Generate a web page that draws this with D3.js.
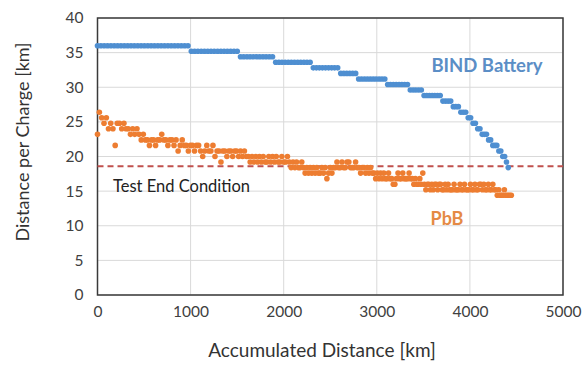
<!DOCTYPE html>
<html><head><meta charset="utf-8">
<script src="https://cdn.jsdelivr.net/npm/d3@7"></script>
<style>body{margin:0;background:#fff}svg{display:block}text{font-family:Lato,"Open Sans",sans-serif}</style>
</head><body><svg id="c" width="583" height="372"></svg>
<script>
const xTicks = [0, 1000, 2000, 3000, 4000, 5000];
const yTicks = [0, 5, 10, 15, 20, 25, 30, 35, 40];
const testEnd = 18.6;

const bindX = [0,36,72,108,144,180,216,252,288,324,360,396,432,468,504,540,576,612,648,684,720,756,792,828,864,900,936,972,
1008,1043,1078,1114,1149,1184,1219,1254,1290,1325,1360,1395,1430,1466,1501,
1536,1570,1605,1639,1674,1708,1742,1777,1811,1846,1880,
1914,1948,1981,2015,2049,2082,2116,2150,2183,2217,2250,2284,
2318,2351,2383,2416,2449,2482,2515,2547,2580,
2613,2645,2677,2709,2741,2773,
2805,2836,2868,2899,2930,2961,2992,3024,3055,3086,
3117,3147,3178,3208,3239,3269,3299,3330,
3360,3390,3419,3449,3478,
3508,3537,3566,3595,3623,3652,3681,
3710,3738,3766,3794,
3822,3849,3876,3903,3929,3955,3982,4008,4034,4059,4084,4108,4132,4155,4178,4201,4223,4246,4268,4289,4311,4332,4353,4373,4393,4412];
const bindY = [36,36,36,36,36,36,36,36,36,36,36,36,36,36,36,36,36,36,36,36,36,36,36,36,36,36,36,36,
35.2,35.2,35.2,35.2,35.2,35.2,35.2,35.2,35.2,35.2,35.2,35.2,35.2,35.2,35.2,
34.4,34.4,34.4,34.4,34.4,34.4,34.4,34.4,34.4,34.4,34.4,
33.6,33.6,33.6,33.6,33.6,33.6,33.6,33.6,33.6,33.6,33.6,33.6,
32.8,32.8,32.8,32.8,32.8,32.8,32.8,32.8,32.8,
32,32,32,32,32,32,
31.2,31.2,31.2,31.2,31.2,31.2,31.2,31.2,31.2,31.2,
30.4,30.4,30.4,30.4,30.4,30.4,30.4,30.4,
29.6,29.6,29.6,29.6,29.6,
28.8,28.8,28.8,28.8,28.8,28.8,28.8,
28,28,28,28,
27.2,27.2,27.2,26.4,26.4,26.4,25.6,25.6,24.8,24.8,24,24,23.2,23.2,23.2,22.4,22.4,21.6,21.6,21.6,20.8,20.8,20,20,19.2,18.4];

const pbbX = [0,20,45,70,95,118,142,166,190,212,236,260,284,306,330,354,378,400,424,446,470,492,514,536,558,580,602,624,646,668,690,712,734,756,778,800,822,844,866,888,910,932,954,976,998,1020,1042,1064,1086,1108,1130,1152,1174,1196,1218,1240,1262,1284,1306,1326,1346,1368,1390,1410,1432,1452,1474,1494,1516,1536,1558,1578,1600,1620,1640,1660,1680,1700,1720,1740,1760,1780,1800,1820,1840,1860,1880,1900,1920,1940,1960,1980,2000,2020,2040,
2060,2080,2100,2120,2138,2158,2176,2194,2212,2230,2248,2266,2284,2302,2320,2338,2356,2374,2392,2410,2428,2446,2464,2482,2500,2518,2536,2554,2572,2590,2608,2626,2644,2662,2680,2700,2718,2736,2754,2772,
2790,2808,2826,2844,2862,2880,2898,2916,2934,2952,2970,2988,3006,3024,3041,3058,3075,3092,3109,3126,3143,3160,3177,3194,3211,3228,3245,3262,3279,3296,3313,3330,3347,3364,3381,3398,3414,3430,3446,3462,3478,3494,3511,3527,3543,3559,3575,3591,3607,3622,3638,3654,3670,3686,3702,3718,3734,3750,3766,3782,3798,3814,3830,3846,3862,3878,3894,3910,3926,3942,3958,3974,3990,4006,4022,4038,4054,4070,4086,4102,4118,4134,4150,4166,4182,4198,4214,4230,4246,4262,4278,4294,4310,4326,4340,4355,4370,4385,4400,4415,4430,4445];
const pbbY = [23.2,26.4,25.6,24.8,25.6,24,24.8,24,21.6,24.8,24.8,24,24.8,24,24,23.2,24,23.2,24,23.2,22.4,23.2,22.4,22.4,21.6,22.4,22.4,21.6,22.4,22.4,23.2,22.4,22.4,21.6,22.4,22.4,21.6,22.4,20.8,21.6,22.4,21.6,21.6,20.8,21.6,21.6,20.8,21.6,21.6,20.8,20,20.8,21.6,20.8,20.8,21.6,20,20.8,20.8,19.2,20.8,20.8,20,20.8,20.8,20,20.8,20.8,20,20.8,20,20.8,20,20,19.2,20,19.2,20,19.2,20,19.2,20,19.2,19.2,20,19.2,20,19.2,20,19.2,19.2,20,19.2,19.2,20,
19.2,18.4,19.2,18.4,19.2,18.4,18.4,19.2,18.4,17.6,18.4,17.6,18.4,17.6,18.4,17.6,18.4,17.6,17.6,18.4,17.6,18.4,16.8,17.6,18.4,17.6,18.4,18.4,19.2,18.4,18.4,19.2,18.4,18.4,19.2,19.2,18.4,18.4,18.4,19.2,
18.4,18.4,17.6,18.4,18.4,17.6,18.4,17.6,18.4,17.6,17.6,16.8,17.6,16.8,17.6,16.8,17.6,16.8,16.8,17.6,16.8,16.8,16,16,16.8,17.6,16.8,16.8,17.6,16.8,16.8,16.8,17.6,16.8,16.8,16,16.8,16,16,16.8,16,17.6,16,15.2,16,16,15.2,16,15.2,16,16,15.2,16,16,15.2,15.2,16,15.2,16,15.2,15.2,15.2,16,15.2,15.2,15.2,16,15.2,15.2,16,15.2,15.2,15.2,16,15.2,15.2,16,15.2,15.2,16,16,15.2,16,15.2,15.2,16,15.2,15.2,16,15.2,15.2,14.4,15.2,14.4,14.4,14.4,15.2,14.4,14.4,14.4,14.4,14.4];

const svg = d3.select("#c");
const m = {l: 97.5, r: 563, t: 18, b: 295};
const x = d3.scaleLinear().domain([0, 5000]).range([m.l, m.r]);
const y = d3.scaleLinear().domain([0, 40]).range([m.b, m.t]);

// gridlines
svg.append("g").selectAll("line").data(yTicks).join("line")
  .attr("x1", m.l).attr("x2", m.r).attr("y1", d => y(d)).attr("y2", d => y(d))
  .attr("stroke", "#d9d9d9").attr("stroke-width", 1);
svg.append("g").selectAll("line").data(xTicks).join("line")
  .attr("y1", m.t).attr("y2", m.b).attr("x1", d => x(d)).attr("x2", d => x(d))
  .attr("stroke", "#d9d9d9").attr("stroke-width", 1);

// axes
const gx = svg.append("g").attr("transform", `translate(0,${m.b})`)
  .call(d3.axisBottom(x).tickValues(xTicks).tickSize(0).tickPadding(11).tickFormat(d3.format("d")));
const gy = svg.append("g").attr("transform", `translate(${m.l},0)`)
  .call(d3.axisLeft(y).tickValues(yTicks).tickSize(0).tickPadding(14));
[gx, gy].forEach(g => {
  g.select(".domain").remove();
  g.selectAll("text").attr("font-size", 15.5).attr("fill", "#404040").style("font-family", "Lato,sans-serif");
});

// frame
svg.append("rect").attr("x", m.l).attr("y", m.t).attr("width", m.r - m.l).attr("height", m.b - m.t)
  .attr("fill", "none").attr("stroke", "#3a3a3a").attr("stroke-width", 1.5);

// test end line
svg.append("line").attr("x1", x(0)).attr("x2", x(5000)).attr("y1", y(testEnd)).attr("y2", y(testEnd))
  .attr("stroke", "#c0504d").attr("stroke-width", 2).attr("stroke-dasharray", "6,4");

// series
svg.append("g").selectAll("circle").data(pbbX).join("circle")
  .attr("cx", d => x(d)).attr("cy", (d, i) => y(pbbY[i])).attr("r", 2.8).attr("fill", "#ed7d31");
svg.append("g").selectAll("circle").data(bindX).join("circle")
  .attr("cx", d => x(d)).attr("cy", (d, i) => y(bindY[i])).attr("r", 2.8).attr("fill", "#4f8fd1");

// labels
svg.append("text").attr("x", 487).attr("y", 72).attr("text-anchor", "middle")
  .attr("font-size", 18.5).attr("font-weight", "bold").attr("fill", "#5b8ec6").text("BIND Battery");
svg.append("text").attr("x", 447).attr("y", 225).attr("text-anchor", "middle")
  .attr("font-size", 18).attr("font-weight", "bold").attr("fill", "#e58a45").text("PbB");
svg.append("text").attr("x", 113).attr("y", 192).attr("font-size", 16.5).attr("fill", "#222").text("Test End Condition");
svg.append("text").attr("x", 322).attr("y", 357).attr("text-anchor", "middle")
  .attr("font-size", 19).attr("fill", "#333").text("Accumulated Distance [km]");
svg.append("text").attr("transform", "translate(29,142) rotate(-90)").attr("text-anchor", "middle")
  .attr("font-size", 18).attr("fill", "#333").text("Distance per Charge [km]");
</script></body></html>
